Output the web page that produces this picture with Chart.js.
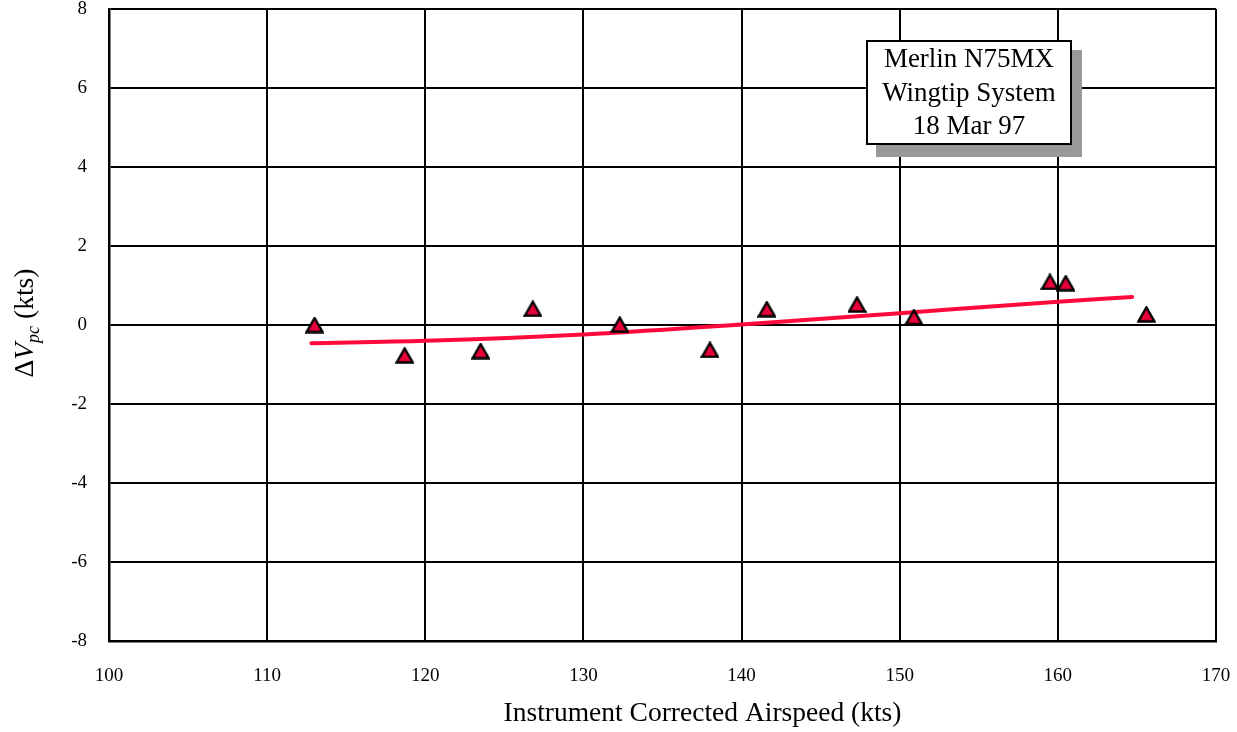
<!DOCTYPE html>
<html>
<head>
<meta charset="utf-8">
<script src="https://cdn.jsdelivr.net/npm/chart.js@4.4.1/dist/chart.umd.min.js"></script>
<style>
html,body{margin:0;padding:0;background:#fff;}
#wrap{width:1237px;height:732px;}
</style>
</head>
<body>
<div id="wrap"><canvas id="c" width="1237" height="732"></canvas></div>
<script>
// ---- data ----
const airspeed = [113.0, 118.7, 123.5, 126.8, 132.3, 138.0, 141.6, 147.3, 150.9, 159.5, 160.5, 165.6];
const deltaVpc = [0.00, -0.77, -0.66, 0.41, 0.01, -0.63, 0.40, 0.52, 0.20, 1.09, 1.06, 0.27];
const fitX = [112.8, 120, 130, 140, 150, 160, 164.7];
const fitY = [-0.46, -0.40, -0.24, 0.01, 0.30, 0.59, 0.71];
const xTicks = [100, 110, 120, 130, 140, 150, 160, 170];
const yTicks = [-8, -6, -4, -2, 0, 2, 4, 6, 8];
const legendLines = ['Merlin N75MX', 'Wingtip System', '18 Mar 97'];
const xTitle = 'Instrument Corrected Airspeed (kts)';

const SERIF = '"Liberation Serif", "Times New Roman", serif';

// triangle marker image (centered by bounding box)
function makeTriangle() {
  const w = 19, h = 17;
  const cv = document.createElement('canvas');
  cv.width = w; cv.height = h;
  const g = cv.getContext('2d');
  g.beginPath();
  g.moveTo(w / 2, 1.5);
  g.lineTo(w - 1.5, h - 1.5);
  g.lineTo(1.5, h - 1.5);
  g.closePath();
  g.fillStyle = '#E8003A';
  g.fill();
  g.lineWidth = 2.4;
  g.lineJoin = 'miter';
  g.strokeStyle = '#000';
  g.stroke();
  return cv;
}
const tri = makeTriangle();

const titlesPlugin = {
  id: 'axisTitles',
  afterDraw(chart) {
    const ctx = chart.ctx;
    const ca = chart.chartArea;
    const cy = (ca.top + ca.bottom) / 2 - 2;
    const big = 27.5, small = 18;
    const parts = [
      {t: '\u0394', f: `${big}px ${SERIF}`, dy: 0},
      {t: 'V', f: `italic ${big}px ${SERIF}`, dy: 0},
      {t: 'pc', f: `italic ${small}px ${SERIF}`, dy: 6},
      {t: ' (kts)', f: `${big}px ${SERIF}`, dy: 0}
    ];
    ctx.save();
    let total = 0;
    parts.forEach(p => { ctx.font = p.f; p.w = ctx.measureText(p.t).width; total += p.w; });
    ctx.translate(33, cy);
    ctx.rotate(-Math.PI / 2);
    ctx.fillStyle = '#000';
    ctx.textBaseline = 'alphabetic';
    ctx.textAlign = 'left';
    let x = -total / 2;
    parts.forEach(p => { ctx.font = p.f; ctx.fillText(p.t, x, p.dy); x += p.w; });
    ctx.restore();

    // x axis title
    ctx.save();
    ctx.font = `${big}px ${SERIF}`;
    ctx.fillStyle = '#000';
    ctx.textAlign = 'center';
    ctx.textBaseline = 'alphabetic';
    ctx.fillText(xTitle, (ca.left + ca.right) / 2 + 40, ca.bottom + 80);
    ctx.restore();
  }
};

const noteBoxPlugin = {
  id: 'noteBox',
  afterDraw(chart) {
    const ctx = chart.ctx;
    const ca = chart.chartArea;
    const bx = ca.left + 758, by = ca.top + 32, bw = 204, bh = 103;
    ctx.save();
    ctx.fillStyle = '#999999';
    ctx.fillRect(bx + 9, by + 9, bw + 2, bh + 4);
    ctx.fillStyle = '#ffffff';
    ctx.fillRect(bx, by, bw, bh);
    ctx.lineWidth = 2;
    ctx.strokeStyle = '#000';
    ctx.strokeRect(bx, by, bw, bh);
    ctx.fillStyle = '#000';
    ctx.font = `27px ${SERIF}`;
    ctx.textAlign = 'center';
    ctx.textBaseline = 'middle';
    legendLines.forEach((s, i) => ctx.fillText(s, bx + bw / 2, by + 19 + i * 33.5));
    ctx.restore();
  }
};

new Chart(document.getElementById('c'), {
  type: 'scatter',
  data: {
    datasets: [
      {
        label: 'fit',
        type: 'line',
        data: fitX.map((x, i) => ({x, y: fitY[i]})),
        borderColor: '#FF0A3C',
        borderWidth: 4,
        pointRadius: 0,
        tension: 0.4,
        cubicInterpolationMode: 'monotone',
        fill: false,
        borderCapStyle: 'round',
        order: 2
      },
      {
        label: 'data',
        data: airspeed.map((x, i) => ({x, y: deltaVpc[i]})),
        pointStyle: tri,
        pointRadius: 8,
        order: 1
      }
    ]
  },
  options: {
    responsive: false,
    animation: false,
    devicePixelRatio: 1,
    layout: {padding: {left: 0, right: 21, top: 8, bottom: 0}},
    plugins: {legend: {display: false}, tooltip: {enabled: false}},
    scales: {
      x: {
        type: 'linear',
        min: 100, max: 170,
        afterBuildTicks(s) { s.ticks = xTicks.map(v => ({value: v})); },
        afterFit(s) { s.height = 91; s.paddingLeft = 0; s.paddingRight = 0; },
        grid: {color: '#000', lineWidth: 2, drawTicks: false},
        border: {color: '#000', width: 2.5},
        ticks: {color: '#000', padding: 24, font: {family: SERIF, size: 19}},
        title: {display: false}
      },
      y: {
        type: 'linear',
        min: -8, max: 8,
        afterBuildTicks(s) { s.ticks = yTicks.map(v => ({value: v})); },
        afterFit(s) { s.width = 109; s.paddingTop = 0; s.paddingBottom = 0; },
        grid: {color: '#000', lineWidth: 2, drawTicks: false},
        border: {color: '#000', width: 2.5},
        ticks: {color: '#000', padding: 22, font: {family: SERIF, size: 19}}
      }
    }
  },
  plugins: [titlesPlugin, noteBoxPlugin]
});
</script>
</body>
</html>
